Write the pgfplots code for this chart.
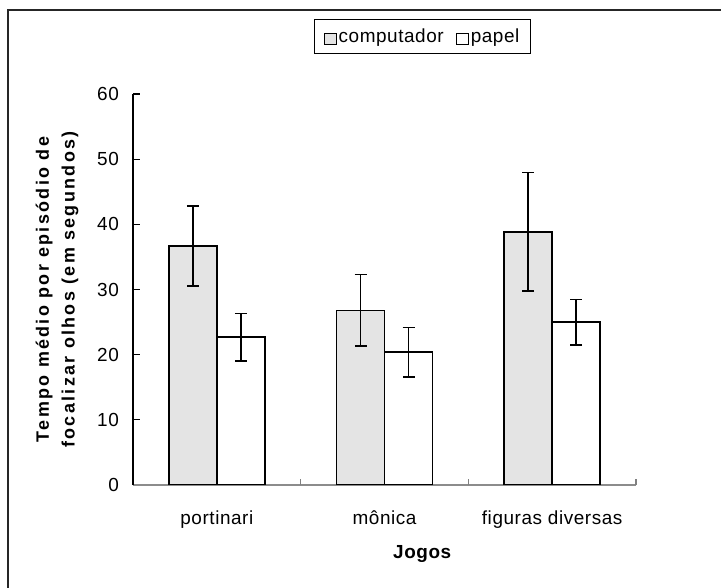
\documentclass[border=0pt]{standalone}
\usepackage{pgfplots}
\pgfplotsset{compat=1.18}
\usepackage{fontspec}
\setmainfont{Liberation Sans}[LetterSpace=3]
\newfontfamily\spaced[LetterSpace=13]{Liberation Sans}
\definecolor{barfill}{RGB}{228,228,228}
\begin{document}
\begin{tikzpicture}
\useasboundingbox (0,0) rectangle (721bp,588bp);
\draw[line width=1.4bp, black!85] (8bp,0) -- (8bp,578bp) -- (721bp,578bp);
\begin{axis}[
  at={(133bp,103bp)}, anchor=south west,
  scale only axis, width=503bp, height=391bp,
  ybar=0pt, bar width=48bp,
  xmin=-0.5, xmax=2.5, ymin=0, ymax=60,
  axis x line*=bottom, axis y line*=left,
  x axis line style={draw=gray!90, line width=1.4bp, -},
  y axis line style={draw=black, line width=1.1bp, -},
  xtick={0,1,2}, xticklabels={portinari, m\^onica, figuras diversas},
  x tick style={draw=none},
  extra x ticks={0.5,1.5,2.5}, extra x tick labels={},
  extra x tick style={x tick style={draw=gray, line width=1.1bp}, major tick length=6bp, tick align=inside},
  ytick={0,10,...,60},
  y tick style={draw=black, line width=1.1bp},
  major tick length=7bp, tick align=inside,
  tick label style={font=\fontsize{19}{22}\selectfont},
  xticklabel style={anchor=base, yshift=-39bp},
  yticklabel style={anchor=east, inner sep=0pt, xshift=-14bp},
  /pgf/number format/assume math mode=true,
  xlabel={\bfseries Jogos},
  xlabel style={at={(axis description cs:0.575,-0.176)}, anchor=center, font=\fontsize{19}{22}\selectfont},
  ylabel={\spaced\bfseries Tempo médio por episódio de\\ \spaced\bfseries focalizar olhos (em segundos)},
  ylabel style={at={(axis description cs:-0.151,0.5)}, anchor=center, align=center, font=\fontsize{18}{26}\selectfont},
  legend columns=2,
  legend style={at={(axis description cs:0.5755,1.147)}, anchor=center, draw=black, line width=1.1bp,
    font=\fontsize{19}{22}\selectfont, inner xsep=9bp, inner ysep=7bp,
    /tikz/every even column/.append style={column sep=10bp}},
  legend image code/.code={\draw[#1, line width=1.1bp] (0bp,-8bp) rectangle (12bp,3bp);},
  error bars/y dir=both, error bars/y explicit,
  error bars/error mark options={rotate=90, mark size=6bp, line width=1.5bp},
  error bars/error bar style={line width=1.5bp},
]
\addplot[draw=black, line width=1.5bp, fill=barfill] coordinates {
  (0,36.7) +- (0,6.15)
  (1,26.8) +- (0,5.5)
  (2,38.85) +- (0,9.1)
};
\addplot[draw=black, line width=1.5bp, fill=white] coordinates {
  (0,22.7) +- (0,3.65)
  (1,20.4) +- (0,3.8)
  (2,25.0) +- (0,3.5)
};
\legend{computador, papel}
\end{axis}
\end{tikzpicture}
\end{document}
